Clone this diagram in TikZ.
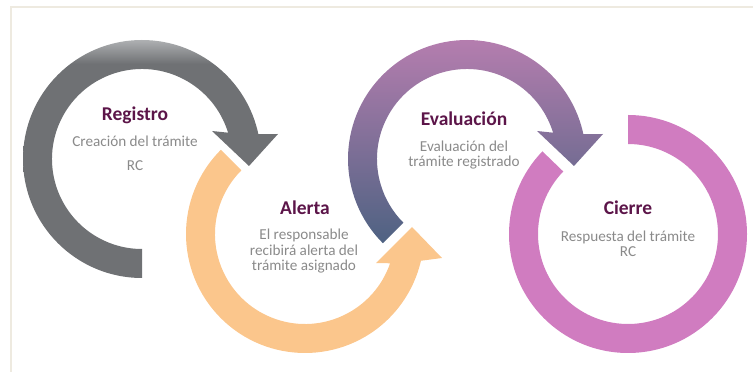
\documentclass[tikz,border=0pt]{standalone}
\usepackage{fontspec}
\setmainfont{Carlito}
\usepackage{tikz}
\usetikzlibrary{positioning}

\definecolor{ringgray}{HTML}{6F7174}
\definecolor{ringgraylt}{HTML}{AEB0B2}
\definecolor{ringorange}{HTML}{FBC68C}
\definecolor{ringplumtop}{HTML}{BA7FB1}
\definecolor{ringplumbot}{HTML}{4E6282}
\definecolor{ringpink}{HTML}{D07CC0}
\definecolor{titleplum}{HTML}{5C1549}
\definecolor{descgray}{HTML}{8A8A8A}
\definecolor{framebeige}{HTML}{EEEAE0}

\pgfdeclareverticalshading{grayfade}{100bp}{color(0bp)=(ringgray); color(70bp)=(ringgray); color(75bp)=(ringgraylt); color(100bp)=(ringgraylt)}

\begin{document}
\begin{tikzpicture}[x=1pt, y=1pt,
  title/.style={font=\fontsize{19.5}{22}\selectfont\bfseries, text=titleplum,
                anchor=base, inner sep=0pt},
  desc/.style={font=\fontsize{15.2}{15.5}\selectfont, text=descgray,
               align=center, anchor=base, inner sep=0pt}
]
\useasboundingbox (0,0) rectangle (753,372);

% frame
\draw[framebeige, line width=2pt] (11,0) -- (11,365) -- (753,365);

% Registro
\begin{scope}[shift={(142,213)}]
  \shade[shading=grayfade] (270:119) arc[start angle=270, end angle=12, radius=119]
    -- (136,25) -- (107,-7) -- (70,28) -- (17:90)
    arc[start angle=17, end angle=270, radius=90] -- cycle;
\end{scope}

% Alerta
\begin{scope}[shift={(305,138)}]
  \fill[ringorange] (135:119) arc[start angle=135, end angle=347, radius=119]
    -- (137,-24) -- (107,7) -- (71,-29) -- (341:90)
    arc[start angle=341, end angle=135, radius=90] -- cycle;
\end{scope}

% Evaluacion
\begin{scope}[shift={(467,213)}]
  \shade[top color=ringplumtop, bottom color=ringplumbot]
    (225:119) arc[start angle=225, end angle=12, radius=119]
    -- (136,25) -- (107,-7) -- (70,28) -- (17:90)
    arc[start angle=17, end angle=225, radius=90] -- cycle;
\end{scope}

% Cierre
\begin{scope}[shift={(628,138)}]
  \fill[ringpink] (90:119) arc[start angle=90, end angle=-224, radius=119]
    -- (136:90) arc[start angle=136, end angle=450, radius=90] -- cycle;
\end{scope}

% texts (desc nodes sit on the baseline of their last line)
\node[title] (registro) at (135,251) {Registro};
\node[desc] (registrotxt) at (135,201) {Creación del trámite\\[8.5pt]RC};

\node[title] (alerta) at (305,157) {Alerta};
\node[desc] (alertatxt) at (304,101) {El responsable\\recibirá alerta del\\trámite asignado};

\node[title] (evaluacion) at (464,246) {Evaluación};
\node[desc] (evaluaciontxt) at (464,205) {Evaluación del\\trámite registrado};

\node[title] (cierre) at (628,157) {Cierre};
\node[desc] (cierretxt) at (628,115) {Respuesta del trámite\\RC};
\end{tikzpicture}
\end{document}
